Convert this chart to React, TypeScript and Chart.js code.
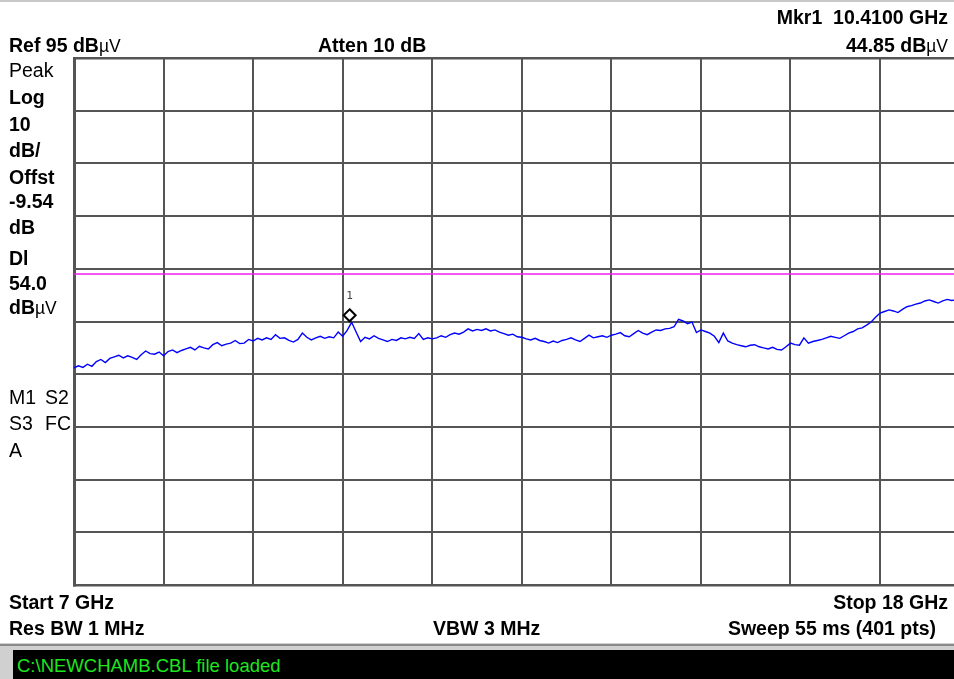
import React, { useEffect, useRef } from "react";
import { Chart, registerables } from "chart.js";

Chart.register(...registerables);

// ---- data ----
const startGHz = 7;
const stopGHz = 18;
const refLevel = 95; // dBµV, top of screen
const bottomLevel = -5; // dBµV, bottom of screen
const displayLine = [54.0];
const markerFreq = [10.41];
const markerLevel = [44.85];
const freqDivisions = [7, 8.1, 9.2, 10.3, 11.4, 12.5, 13.6, 14.7, 15.8, 16.9, 18];
const levelDivisions = [95, 85, 75, 65, 55, 45, 35, 25, 15, 5, -5];

// trace levels (dBµV), evenly spaced sweep from Start to Stop
const traceLevels = [
  36.2, 36.6, 36.3, 36.9, 36.5, 37.4, 37.8, 37.2, 38.0, 38.3,
  38.6, 38.1, 38.5, 38.2, 37.8, 38.7, 39.4, 38.9, 38.8, 39.2,
  38.5, 39.3, 39.6, 39.1, 39.5, 39.8, 40.1, 39.6, 40.3, 40.0,
  39.8, 40.6, 41.0, 40.4, 40.7, 40.9, 41.4, 40.8, 40.9, 41.6,
  41.3, 41.8, 41.5, 41.9, 41.6, 42.5, 41.8, 41.9, 41.4, 41.1,
  41.6, 42.8, 42.0, 41.5, 41.9, 42.2, 41.8, 42.1, 41.9, 43.0,
  42.2, 43.3, 44.85, 43.0, 41.2, 42.0, 41.7, 42.3, 41.8, 41.5,
  41.2, 41.6, 41.4, 41.9, 41.7, 42.0, 41.8, 42.7, 41.6, 41.9,
  41.7, 41.9, 42.3, 42.0, 42.5, 42.8, 42.6, 43.0, 43.6, 43.2,
  43.5, 43.3, 43.6, 43.2, 43.4, 43.0, 42.7, 42.4, 42.6, 42.1,
  42.0, 41.7, 41.5, 41.8, 41.4, 41.2, 40.9, 41.3, 41.0, 41.4,
  41.6, 41.9, 41.5, 41.2, 41.8, 42.4, 41.9, 42.1, 42.3, 42.0,
  42.4, 42.6, 42.9, 42.3, 42.1, 42.7, 43.3, 42.8, 42.5, 43.0,
  43.4, 43.3, 43.6, 43.7, 44.0, 45.4, 45.1, 44.6, 44.9, 42.9,
  43.4, 43.1, 42.8, 42.2, 41.0, 42.8, 41.3, 40.9, 40.6, 40.4,
  40.2, 40.5, 40.6, 40.2, 40.0, 39.8, 40.1, 39.7, 39.6, 40.2,
  40.9, 40.6, 40.5, 41.9, 40.9, 41.2, 41.4, 41.6, 41.9, 42.2,
  42.0, 41.8, 42.3, 42.8, 43.1, 43.6, 43.8, 44.3, 44.9, 45.8,
  46.6, 46.9, 47.2, 47.0, 46.7, 47.3, 47.8, 48.0, 48.3, 48.5,
  48.9, 49.1, 48.8, 48.5, 48.9, 49.2, 49.0, 49.1, 48.9, 49.2, 49.0,
];

const FONT = '"Liberation Sans", Arial, Helvetica, sans-serif';

type TProps = {
  x: number;
  y: number;
  right?: boolean;
  bold?: boolean;
  size?: number;
  color?: string;
  children: React.ReactNode;
};

function T({ x, y, right, bold = true, size = 19.5, color = "#000", children }: TProps) {
  const style: React.CSSProperties = {
    position: "absolute",
    top: y - 12,
    height: 24,
    lineHeight: "24px",
    fontFamily: FONT,
    fontSize: size,
    fontWeight: bold ? 700 : 400,
    color,
    whiteSpace: "pre",
  };
  if (right) style.right = 954 - x;
  else style.left = x;
  return <div style={style}>{children}</div>;
}

const UV = () => <span style={{ fontWeight: 400, fontSize: 17.5 }}>µV</span>;

const markerPlugin = {
  id: "markerPlugin",
  afterDatasetsDraw(chart: any) {
    const { ctx, scales } = chart;
    const px = scales.x.getPixelForValue(markerFreq[0]);
    const py = scales.y.getPixelForValue(markerLevel[0]);
    const cx = px - 2;
    const cy = py - 7;
    ctx.save();
    ctx.beginPath();
    ctx.moveTo(cx, cy - 6);
    ctx.lineTo(cx + 6, cy);
    ctx.lineTo(cx, cy + 6);
    ctx.lineTo(cx - 6, cy);
    ctx.closePath();
    ctx.fillStyle = "#fff";
    ctx.fill();
    ctx.lineWidth = 2;
    ctx.strokeStyle = "#000";
    ctx.stroke();
    ctx.fillStyle = "#444";
    ctx.font = `11px "DejaVu Sans Mono", monospace`;
    ctx.textAlign = "center";
    ctx.textBaseline = "middle";
    ctx.fillText("1", cx, cy - 19);
    ctx.restore();
  },
};

export default function App() {
  const ref = useRef<HTMLCanvasElement | null>(null);

  useEffect(() => {
    const canvas = ref.current;
    if (!canvas) return;
    const n = traceLevels.length;
    const step = (stopGHz - startGHz) / (n - 1);
    const trace = traceLevels.map((v, i) => ({ x: startGHz + i * step, y: v }));
    const dl = [
      { x: startGHz, y: displayLine[0] },
      { x: stopGHz, y: displayLine[0] },
    ];
    const chart = new Chart(canvas, {
      type: "line",
      data: {
        datasets: [
          {
            data: dl,
            borderColor: "#f01ef0",
            borderWidth: 1.5,
            pointRadius: 0,
            tension: 0,
          },
          {
            data: trace,
            borderColor: "#0000ff",
            borderWidth: 1.4,
            pointRadius: 0,
            tension: 0,
          },
        ],
      },
      options: {
        animation: false,
        responsive: false,
        events: [],
        layout: { padding: { left: 74, top: 58, right: 20.4, bottom: 94 } },
        plugins: {
          legend: { display: false },
          tooltip: { enabled: false },
        },
        scales: {
          x: {
            type: "linear",
            min: startGHz,
            max: stopGHz,
            afterBuildTicks: (s: any) => {
              s.ticks = freqDivisions.map((v) => ({ value: v }));
            },
            ticks: { display: false },
            grid: { color: "#555555", lineWidth: 2, drawTicks: false },
            border: { display: true, color: "#555555", width: 2.5 },
          },
          y: {
            type: "linear",
            min: bottomLevel,
            max: refLevel,
            afterBuildTicks: (s: any) => {
              s.ticks = levelDivisions.map((v) => ({ value: v }));
            },
            ticks: { display: false },
            grid: {
              color: "#555555",
              lineWidth: (c: any) => (c.tick && c.tick.value === refLevel ? 2.5 : 2),
              drawTicks: false,
            },
            border: { display: true, color: "#555555", width: 3 },
          },
        },
      },
      plugins: [markerPlugin],
    } as any);
    return () => chart.destroy();
  }, []);

  return (
    <div
      style={{
        position: "fixed",
        left: 0,
        top: 0,
        width: 954,
        height: 679,
        overflow: "hidden",
        background: "#fff",
      }}
    >
      <div style={{ position: "absolute", left: 0, top: 0, width: 954, height: 2, background: "#c8c8c8" }} />
      <div style={{ position: "absolute", left: 0, top: 0, width: 990, height: 679 }}>
        <canvas ref={ref} width={990} height={679} style={{ width: 990, height: 679, display: "block" }} />
      </div>

      <T x={948} y={17} right>{"Mkr1  10.4100 GHz"}</T>
      <T x={9} y={45}>Ref 95 dB<UV /></T>
      <T x={318} y={45}>Atten 10 dB</T>
      <T x={948} y={45} right>44.85 dB<UV /></T>

      <T x={9} y={70} bold={false}>Peak</T>
      <T x={9} y={97}>Log</T>
      <T x={9} y={124}>10</T>
      <T x={9} y={150}>dB/</T>
      <T x={9} y={177}>Offst</T>
      <T x={9} y={201}>-9.54</T>
      <T x={9} y={227}>dB</T>
      <T x={9} y={258}>Dl</T>
      <T x={9} y={283}>54.0</T>
      <T x={9} y={307}>dB<UV /></T>

      <T x={9} y={397} bold={false}>M1</T>
      <T x={45} y={397} bold={false}>S2</T>
      <T x={9} y={423} bold={false}>S3</T>
      <T x={45} y={423} bold={false}>FC</T>
      <T x={9} y={450} bold={false}>A</T>

      <T x={9} y={602}>Start 7 GHz</T>
      <T x={948} y={602} right>Stop 18 GHz</T>
      <T x={9} y={628}>Res BW 1 MHz</T>
      <T x={433} y={628}>VBW 3 MHz</T>
      <T x={936} y={628} right>Sweep 55 ms (401 pts)</T>

      <div style={{ position: "absolute", left: 0, top: 643, width: 954, height: 7, background: "#d0d0d0" }} />
      <div style={{ position: "absolute", left: 0, top: 644, width: 954, height: 2, background: "#8a8a8a" }} />
      <div style={{ position: "absolute", left: 0, top: 650, width: 13, height: 29, background: "#d0d0d0" }} />
      <div style={{ position: "absolute", left: 13, top: 650, width: 941, height: 29, background: "#000" }} />
      <T x={17} y={666} bold={false} size={18.5} color="#1ee61e">{"C:\\NEWCHAMB.CBL file loaded"}</T>
    </div>
  );
}
